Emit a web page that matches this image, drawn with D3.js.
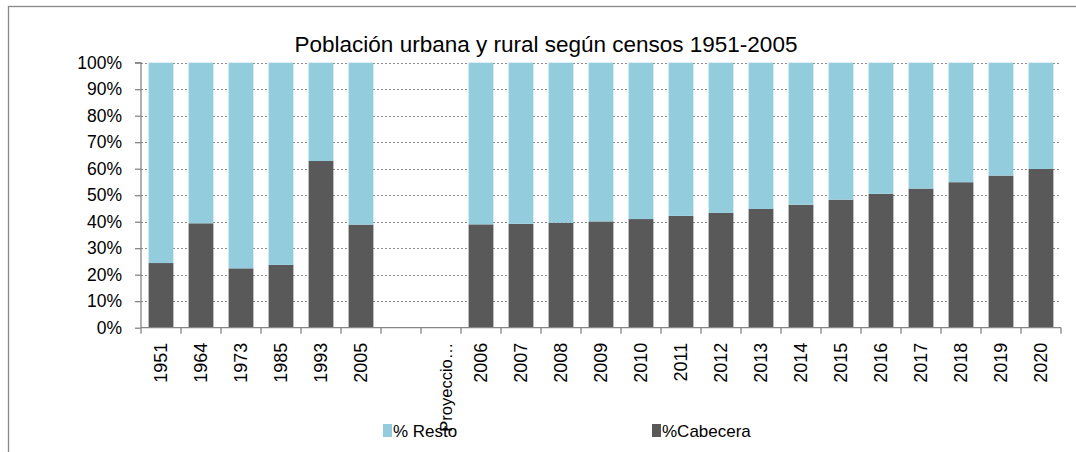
<!DOCTYPE html>
<html>
<head>
<meta charset="utf-8">
<script src="https://cdn.jsdelivr.net/npm/d3@7"></script>
<style>
  html, body { margin: 0; padding: 0; background: #fff; }
  svg { display: block; }
  text { font-family: "Liberation Sans", Arial, sans-serif; fill: #000; }
</style>
</head>
<body>
<svg id="chart" width="1076" height="452"></svg>
<script>
const categories = ["1951","1964","1973","1985","1993","2005","","Proyecciones",
  "2006","2007","2008","2009","2010","2011","2012","2013","2014","2015","2016","2017","2018","2019","2020"];
const cabecera = [24.4, 39.4, 22.4, 23.7, 62.9, 38.9, null, null,
  39.0, 39.2, 39.6, 40.1, 41.0, 42.2, 43.3, 44.8, 46.4, 48.3, 50.5, 52.5, 54.9, 57.4, 59.9];
const resto = cabecera.map(v => v == null ? null : 100 - v);
const yTicks = [0,10,20,30,40,50,60,70,80,90,100];
const seriesNames = ["% Resto", "%Cabecera"];
const colors = { resto: "#93CDDD", cabecera: "#595959" };
const title = "Población urbana y rural según censos 1951-2005";

const svg = d3.select("#chart");
const margin = { left: 141, right: 1061, top: 62.7, bottom: 327.7 };

// outer chart border
svg.append("rect").attr("x", 8.5).attr("y", 6.5).attr("width", 1200).attr("height", 600)
  .attr("fill", "none").attr("stroke", "#888").attr("stroke-width", 1.3);

const x = d3.scaleBand().domain(categories.map((c, i) => i))
  .range([margin.left, margin.right]).paddingInner(0.38).paddingOuter(0.19);
const y = d3.scaleLinear().domain([0, 100]).range([margin.bottom, margin.top]);

// gridlines
svg.append("g").selectAll("line").data(yTicks.filter(t => t > 0)).join("line")
  .attr("x1", margin.left).attr("x2", margin.right)
  .attr("y1", d => Math.round(y(d)) + 0.5).attr("y2", d => Math.round(y(d)) + 0.5)
  .attr("stroke", "#8a8a8a").attr("stroke-width", 1.2).attr("stroke-dasharray", "2,2");

// bars
const idx = categories.map((c, i) => i).filter(i => cabecera[i] != null);
svg.append("g").selectAll("rect").data(idx).join("rect")
  .attr("x", i => x(i)).attr("width", x.bandwidth())
  .attr("y", i => y(cabecera[i])).attr("height", i => y(0) - y(cabecera[i]))
  .attr("fill", colors.cabecera);
svg.append("g").selectAll("rect").data(idx).join("rect")
  .attr("x", i => x(i)).attr("width", x.bandwidth())
  .attr("y", i => y(cabecera[i] + resto[i])).attr("height", i => y(cabecera[i]) - y(cabecera[i] + resto[i]))
  .attr("fill", colors.resto);

// y axis
const yAxis = d3.axisLeft(y).tickValues(yTicks).tickFormat(d => d + "%").tickSize(6).tickPadding(13);
const gy = svg.append("g").attr("transform", `translate(${margin.left},0)`).call(yAxis);
gy.select(".domain").attr("stroke", "#868686").attr("stroke-width", 1.3).attr("d", `M-6,${y(100)}H0V${y(0)}`);
gy.selectAll(".tick line").attr("stroke", "#868686").attr("stroke-width", 1.3);
gy.selectAll(".tick text").attr("font-size", 17.5).attr("font-family", "Liberation Sans, Arial, sans-serif").attr("fill", "#000");

// x axis line and ticks at category boundaries
const boundaries = d3.range(categories.length + 1).map(i => margin.left + i * (margin.right - margin.left) / categories.length);
svg.append("line").attr("x1", margin.left).attr("x2", margin.right)
  .attr("y1", y(0)).attr("y2", y(0)).attr("stroke", "#868686").attr("stroke-width", 1.3);
svg.append("g").selectAll("line").data(boundaries).join("line")
  .attr("x1", d => d).attr("x2", d => d).attr("y1", y(0)).attr("y2", y(0) + 6)
  .attr("stroke", "#868686").attr("stroke-width", 1.3);

// x labels
svg.append("g").selectAll("text").data(categories.map((c, i) => ({ c, i })).filter(d => d.c !== "")).join("text")
  .attr("transform", d => `translate(${x(d.i) + x.bandwidth() / 2 + (d.c === "Proyecciones" ? 5 : 0)},${y(0) + 15}) rotate(-90)`)
  .attr("text-anchor", "end").attr("dy", "0.35em")
  .attr("font-size", d => d.c === "Proyecciones" ? 16.5 : 18)
  .text(d => d.c === "Proyecciones" ? "Proyeccio…" : d.c);

// title
svg.append("text").attr("x", 546).attr("y", 52).attr("text-anchor", "middle")
  .attr("font-size", 22.5).text(title);

// legend
const legend = [
  { name: seriesNames[0], color: colors.resto, x: 383 },
  { name: seriesNames[1], color: colors.cabecera, x: 652 }
];
const lg = svg.append("g").selectAll("g").data(legend).join("g")
  .attr("transform", d => `translate(${d.x},424)`);
lg.append("rect").attr("width", 9).attr("height", 13).attr("fill", d => d.color);
lg.append("text").attr("x", 10).attr("y", 12.5).attr("font-size", 17).text(d => d.name);
</script>
</body>
</html>
